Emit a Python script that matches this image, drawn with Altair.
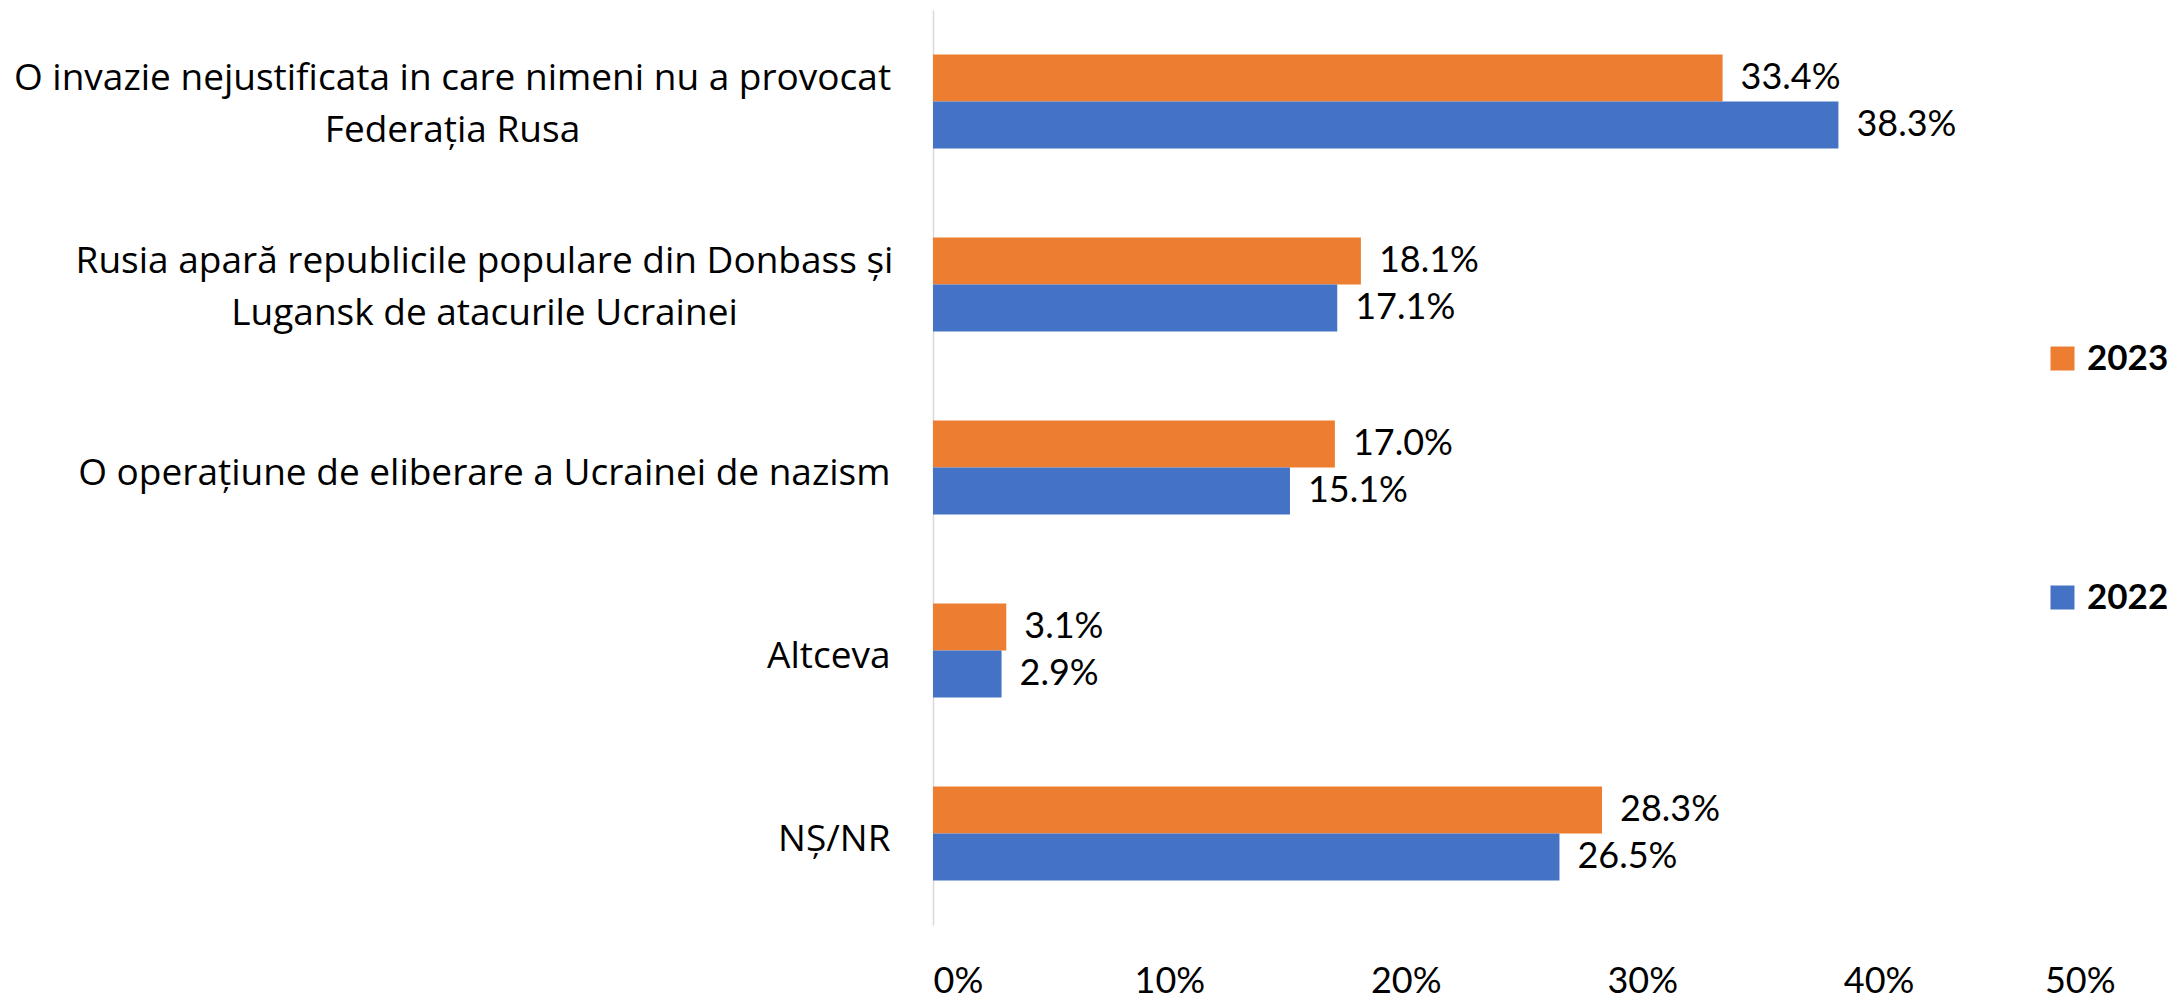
import altair as alt
import pandas as pd

categories = [
    "O invazie nejustificata in care nimeni nu a provocat|Federația Rusa",
    "Rusia apară republicile populare din Donbass și|Lugansk de atacurile Ucrainei",
    "O operațiune de eliberare a Ucrainei de nazism",
    "Altceva",
    "NȘ/NR",
]
years = ["2023", "2022"]
values_2023 = [33.4, 18.1, 17.0, 3.1, 28.3]
values_2022 = [38.3, 17.1, 15.1, 2.9, 26.5]
colors = ["#ED7D31", "#4472C4"]
x_ticks = [0, 10, 20, 30, 40, 50]

rows = []
for cat, v23, v22 in zip(categories, values_2023, values_2022):
    rows.append({"category": cat, "year": "2023", "value": v23, "label": f"{v23:.1f}%"})
    rows.append({"category": cat, "year": "2022", "value": v22, "label": f"{v22:.1f}%"})
df = pd.DataFrame(rows)

FONT = "Lato"
CAT_FONT = "Open Sans"

y_axis = alt.Axis(
    title=None,
    labelExpr="split(datum.label, '|')",
    labelFont=CAT_FONT,
    labelFontSize=37,
    labelColor="#000000",
    labelLineHeight=52,
    labelLimit=2000,
    labelBaseline="middle",
    labelAlign={
        "condition": {"test": "indexof(datum.value, '|') >= 0", "value": "center"},
        "value": "right",
    },
    labelPadding={
        "condition": [
            {"test": "indexof(datum.value, 'invazie') >= 0", "value": 481},
            {"test": "indexof(datum.value, 'Donbass') >= 0", "value": 449},
        ],
        "value": 43,
    },
    labelOffset={
        "condition": {"test": "indexof(datum.value, '|') >= 0", "value": -23},
        "value": 6,
    },
    ticks=False,
    domain=True,
    domainColor="#D9D9D9",
    domainWidth=1.5,
    grid=False,
)

x_axis = alt.Axis(
    title=None,
    values=x_ticks,
    labelExpr="datum.value + '%'",
    labelFont=FONT,
    labelFontSize=36,
    labelColor="#000000",
    labelPadding=39,
    labelBaseline="top",
    ticks=False,
    domain=False,
    grid=False,
)

base = alt.Chart(df).encode(
    y=alt.Y(
        "category:N",
        sort=categories,
        scale=alt.Scale(paddingInner=0.486, paddingOuter=0.243),
        axis=y_axis,
    ),
    yOffset=alt.YOffset("year:N", sort=years, scale=alt.Scale(domain=years, paddingInner=0, paddingOuter=0)),
    x=alt.X("value:Q", scale=alt.Scale(domain=[0, 50], nice=False), axis=x_axis),
)

bars = base.mark_bar().encode(
    color=alt.Color(
        "year:N",
        sort=years,
        scale=alt.Scale(domain=years, range=colors),
        legend=alt.Legend(
            title=None,
            orient="none",
            legendX=1112,
            legendY=331,
            padding=0,
            symbolType="square",
            symbolSize=576,
            symbolStrokeWidth=0,
            labelFont=FONT,
            labelFontSize=35,
            labelFontWeight="bold",
            labelColor="#000000",
            labelOffset=7,
            rowPadding=203,
        ),
    )
)

text = base.mark_text(
    align="left", baseline="middle", dx=18, fontSize=36, font=FONT, color="#000000"
).encode(text="label:N")

chart = (
    alt.layer(bars, text)
    .properties(
        width=1182,
        height=915,
        autosize=alt.AutoSizeParams(type="none"),
        padding={"left": 925, "top": 2, "right": 52, "bottom": 72},
        background="white",
    )
    .configure_view(stroke=None)
)

chart.save("out.html", embed_options={"renderer": "svg", "actions": False})
